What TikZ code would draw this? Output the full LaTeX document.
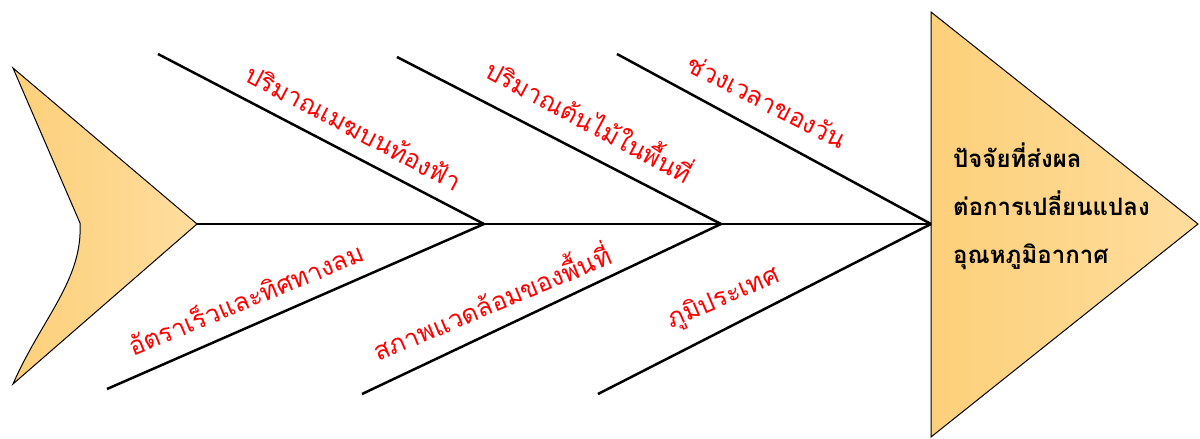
\documentclass[tikz,border=0pt]{standalone}
\usepackage{fontspec}
\newfontfamily\thai[Script=Thai]{Loma}
\definecolor{goldA}{RGB}{253,208,122}
\definecolor{goldB}{RGB}{254,221,158}
\definecolor{lblred}{RGB}{255,0,0}
\begin{document}
\begin{tikzpicture}[x=1pt,y=-1pt,
  rib/.style={line width=2.5pt,black},
  bodyshape/.style={draw=black,line width=1pt,left color=goldA,right color=goldB},
  lbl/.style={text=lblred,font=\thai\fontsize{25.5}{30}\selectfont,anchor=base,inner sep=0pt},
  headtxt/.style={text=black,font=\thai\bfseries\fontsize{24}{28}\selectfont,anchor=base west,inner sep=0pt}]
\useasboundingbox (0,0) rectangle (1200,439);
% tail
\coordinate (tailtip) at (197,224);
\path[bodyshape] (13,68) -- (tailtip) -- (13,384) .. controls (42,318) and (83,280) .. (80,223) -- cycle;
% head
\coordinate (headmid) at (931,224);
\path[bodyshape] (931,12) -- (1198,224) -- (931,437) -- cycle;
% spine joints
\coordinate (j1) at (484,224);
\coordinate (j2) at (721,224);
% rib ends
\coordinate (t1) at (158,54);
\coordinate (t2) at (397,57);
\coordinate (t3) at (617,54);
\coordinate (b1) at (107,389);
\coordinate (b2) at (362,394);
\coordinate (b3) at (598,394);
\draw[rib] (tailtip) -- (headmid);
\draw[rib] (t1) -- (j1);
\draw[rib] (t2) -- (j2);
\draw[rib] (t3) -- (headmid);
\draw[rib] (b1) -- (j1);
\draw[rib] (b2) -- (j2);
\draw[rib] (b3) -- (headmid);
% labels
\node[lbl,rotate=-27.8] (l1) at (349.5,136) {ปริมาณเมฆบนท้องฟ้า};
\node[lbl,rotate=-28.3] (l2) at (584.5,130.5) {ปริมาณต้นไม้ในพื้นที่};
\node[lbl,rotate=-27] (l3) at (762.5,110) {ช่วงเวลาของวัน};
\node[lbl,rotate=22.4] (l4) at (249.5,308.5) {อัตราเร็วและทิศทางลม};
\node[lbl,rotate=22.7] (l5) at (496,312.5) {สภาพแวดล้อมของพื้นที่};
\node[lbl,rotate=23.3] (l6) at (726.5,305) {ภูมิประเทศ};
% head text
\node[headtxt] (h1) at (953,167) {ปัจจัยที่ส่งผล};
\node[headtxt] (h2) at (953,215) {ต่อการเปลี่ยนแปลง};
\node[headtxt] (h3) at (953,263) {อุณหภูมิอากาศ};
\end{tikzpicture}
\end{document}
